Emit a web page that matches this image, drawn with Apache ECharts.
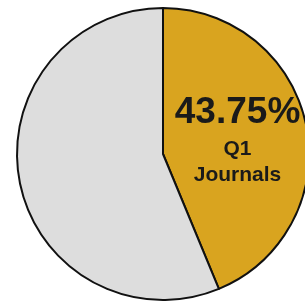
<!DOCTYPE html>
<html><head><meta charset="utf-8">
<script src="https://cdn.jsdelivr.net/npm/echarts@6/dist/echarts.min.js"></script>
<style>html,body{margin:0;padding:0;background:#fff}#c{width:305px;height:302px}</style>
</head><body><div id="c"></div>
<script>
const categories = ['Q1 Journals', 'Other'];
const values = [43.75, 56.25];
const colors = ['#D9A41F', '#DDDDDD'];

const chart = echarts.init(document.getElementById('c'), null, {renderer: 'canvas'});
chart.setOption({
  animation: false,
  backgroundColor: '#ffffff',
  series: [{
    type: 'pie',
    center: [163, 154],
    radius: [0, 146],
    startAngle: 90,
    clockwise: true,
    silent: true,
    itemStyle: { borderColor: '#111', borderWidth: 2 },
    labelLine: { show: false },
    data: categories.map((c, i) => ({
      name: c, value: values[i],
      itemStyle: { color: colors[i] },
      label: i === 0 ? {
        show: true, position: 'inside',
        formatter: '{a|' + values[i].toFixed(2) + '%}\n{b|Q1}\n{b|Journals}',
        rich: {
          a: { fontFamily: 'Liberation Sans, Arial', fontWeight: 'bold', fontSize: 37, lineHeight: 46, color: '#1a1a1a' },
          b: { fontFamily: 'Liberation Sans, Arial', fontWeight: 'bold', fontSize: 21, lineHeight: 26, color: '#1a1a1a' }
        }
      } : { show: false }
    }))
  }]
});
</script></body></html>
